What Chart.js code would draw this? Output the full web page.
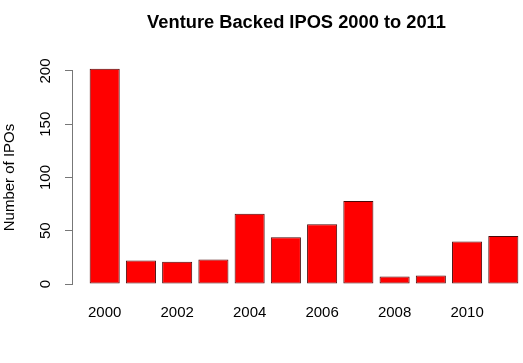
<!DOCTYPE html>
<html>
<head>
<meta charset="utf-8">
<script src="https://cdn.jsdelivr.net/npm/chart.js@4"></script>
<style>
  html, body { margin: 0; padding: 0; background: #fff; }
  #wrap { width: 523px; height: 363px; }
</style>
</head>
<body>
<div id="wrap"><canvas id="c" width="523" height="363"></canvas></div>
<script>
"use strict"
// data
const years = [2000, 2001, 2002, 2003, 2004, 2005, 2006, 2007, 2008, 2009, 2010, 2011];
const ipos = [202, 22, 21, 23, 66, 44, 56, 78, 7, 8, 40, 45];
const yTicks = [0, 50, 100, 150, 200];

const points = years.map((y, i) => ({x: y, y: ipos[i]}));
const font = "'Liberation Sans', Arial, Helvetica, sans-serif";

const ctx = document.getElementById("c");
const myChart = new Chart(ctx, {
    type: 'bar',
    data: {
        datasets: [{
            data: points,
            backgroundColor: '#ff0000',
            borderColor: '#4a0808',
            borderWidth: 1,
            borderSkipped: false,
            barPercentage: 0.83,
            categoryPercentage: 1,
            clip: false
        }]
    },
    options: {
        responsive: false,
        animation: false,
        layout: { padding: { left: 0, right: 2, top: 0, bottom: 21 } },
        plugins: {
            legend: { display: false },
            tooltip: { enabled: false },
            title: {
                display: true,
                text: 'Venture Backed IPOS 2000 to 2011',
                fullSize: false,
                color: '#000',
                font: { family: font, size: 18.3, weight: 'bold' },
                padding: { top: 12, bottom: 37 }
            }
        },
        scales: {
            x: {
                type: 'linear',
                offset: false,
                min: 1999.098,
                max: 2011.488,
                grid: { display: false, drawTicks: false, tickLength: 0, offset: false },
                border: { display: false },
                ticks: {
                    stepSize: 2,
                    includeBounds: false,
                    padding: 20,
                    color: '#000',
                    maxRotation: 0,
                    autoSkip: false,
                    font: { family: font, size: 15 },
                    callback: (v) => String(v)
                }
            },
            y: {
                min: 0,
                max: 200,
                afterBuildTicks: (scale) => { scale.ticks = yTicks.map(v => ({value: v})); },
                afterFit: (scale) => { scale.width = 72; },
                grid: { display: true, drawOnChartArea: false, drawTicks: true, tickLength: 7, color: '#777', lineWidth: 1 },
                border: { display: true, color: '#777', width: 1 },
                ticks: {
                    minRotation: 90,
                    maxRotation: 90,
                    crossAlign: 'center',
                    padding: 7,
                    color: '#000',
                    font: { family: font, size: 15 }
                },
                title: {
                    display: true,
                    text: 'Number of IPOs',
                    color: '#000',
                    font: { family: font, size: 15 },
                    padding: { top: 1, bottom: 0 }
                }
            }
        }
    }
});
</script>
</body>
</html>
